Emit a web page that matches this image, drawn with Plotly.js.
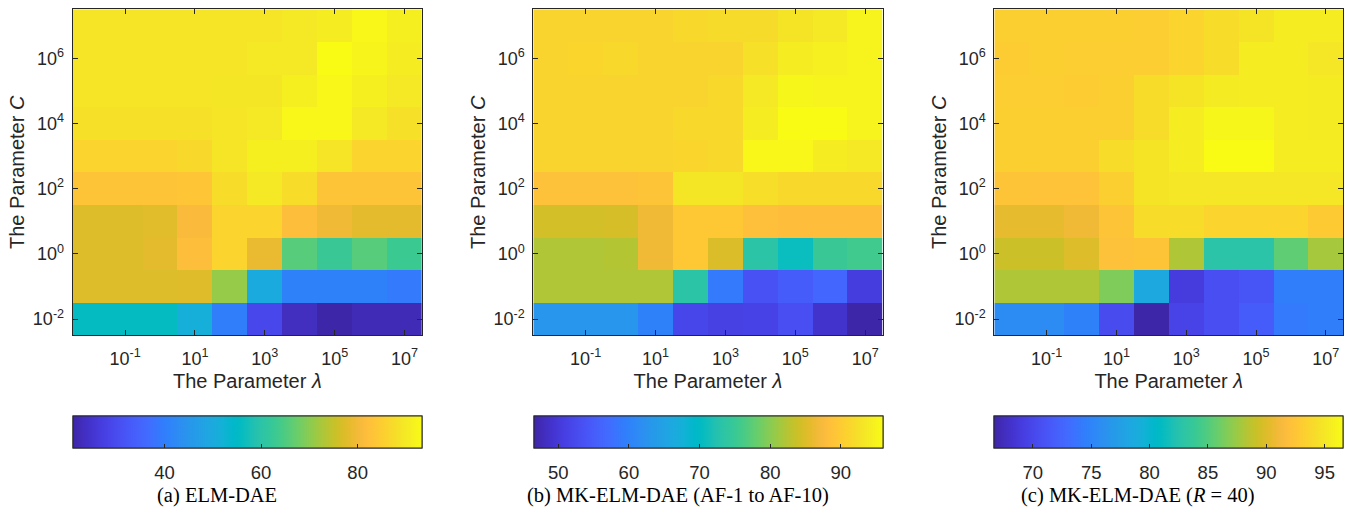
<!DOCTYPE html>
<html>
<head>
<meta charset="utf-8">
<script src="https://cdn.plot.ly/plotly-3.0.1.min.js"></script>
<style>html,body{margin:0;padding:0;background:#fff;}#chart{width:1351px;height:510px;}</style>
</head>
<body>
<div id="chart"></div>
<script>
// Exponents of the grid (log10 of lambda and C)
const lambdaExp = [-2, -1, 0, 1, 2, 3, 4, 5, 6, 7];
const cExp = [-2, -1, 0, 1, 2, 3, 4, 5, 6, 7];
const xTickVals = [-1, 1, 3, 5, 7];
const xTickText = ["10<sup>-1</sup>", "10<sup>1</sup>", "10<sup>3</sup>", "10<sup>5</sup>", "10<sup>7</sup>"];
const yTickVals = [-2, 0, 2, 4, 6];
const yTickText = ["10<sup>-2</sup>", "10<sup>0</sup>", "10<sup>2</sup>", "10<sup>4</sup>", "10<sup>6</sup>"];

// Accuracy (%) rows: C = 1e-2 (first) ... 1e7 (last); columns: lambda = 1e-2 ... 1e7
const accElmDae = [
  [55.7, 55.7, 55.7, 51.4, 39.8, 29.0, 23.2, 21.0, 22.4, 22.4],
  [77.4, 77.4, 77.4, 77.6, 70.9, 49.9, 40.5, 40.5, 40.5, 39.1],
  [77.4, 77.4, 78.1, 81.7, 86.1, 78.8, 65.8, 62.6, 65.8, 62.9],
  [77.4, 77.4, 77.8, 81.0, 86.1, 86.1, 81.7, 79.6, 78.1, 78.1],
  [83.2, 83.2, 83.2, 83.6, 87.5, 89.7, 87.5, 83.2, 83.2, 83.2],
  [86.1, 86.1, 86.1, 86.8, 89.0, 91.1, 91.1, 89.0, 86.1, 86.1],
  [88.2, 88.2, 88.2, 88.2, 89.0, 89.7, 92.6, 92.6, 89.7, 88.2],
  [89.0, 89.0, 89.0, 89.0, 89.3, 89.3, 91.1, 92.6, 91.1, 89.7],
  [89.0, 89.0, 89.0, 89.0, 89.0, 89.7, 89.7, 93.3, 91.9, 90.4],
  [89.0, 89.0, 89.0, 89.0, 89.0, 89.0, 89.7, 90.4, 92.6, 91.1]
];
const accMkAf = [
  [62.8, 62.8, 62.8, 59.8, 51.9, 51.0, 51.4, 52.9, 49.0, 46.5],
  [82.1, 82.1, 82.1, 82.1, 73.2, 58.9, 53.4, 54.9, 56.4, 50.5],
  [82.1, 82.1, 82.3, 86.5, 89.5, 84.8, 73.2, 70.7, 74.9, 75.6],
  [84.3, 84.3, 84.5, 86.5, 89.5, 89.5, 88.2, 88.0, 88.0, 88.0],
  [88.5, 88.5, 88.5, 89.0, 93.2, 93.2, 92.2, 91.5, 91.5, 91.5],
  [91.0, 91.0, 91.0, 91.0, 91.2, 91.5, 95.4, 95.4, 93.9, 93.4],
  [91.0, 91.0, 91.0, 91.0, 91.5, 91.5, 93.9, 95.9, 95.9, 94.9],
  [91.0, 91.0, 91.0, 91.0, 91.0, 91.5, 93.4, 95.2, 94.9, 94.9],
  [91.0, 91.2, 91.5, 91.0, 91.0, 91.0, 92.4, 93.9, 94.4, 94.9],
  [91.0, 91.0, 91.0, 91.0, 91.5, 91.9, 91.9, 92.9, 93.4, 94.9]
];
const accMkR40 = [
  [75.7, 75.7, 74.8, 70.3, 66.7, 69.7, 70.6, 71.8, 74.2, 74.5],
  [88.2, 88.2, 88.2, 86.6, 78.4, 69.1, 70.6, 71.2, 74.5, 74.5],
  [89.3, 89.3, 90.0, 92.1, 92.4, 88.2, 82.8, 82.8, 85.5, 87.9],
  [90.5, 90.5, 90.9, 92.4, 94.2, 94.2, 93.6, 93.6, 93.6, 92.9],
  [92.4, 92.3, 92.3, 93.3, 94.8, 95.0, 95.0, 95.0, 95.0, 95.0],
  [93.3, 93.3, 93.3, 94.2, 94.8, 95.4, 96.6, 96.6, 95.4, 95.4],
  [93.3, 93.3, 93.3, 93.3, 94.2, 95.4, 96.2, 96.2, 95.4, 95.3],
  [93.2, 93.2, 93.0, 93.3, 94.2, 94.8, 95.3, 95.4, 95.4, 95.3],
  [93.0, 93.3, 93.2, 93.2, 93.2, 93.6, 94.2, 95.4, 95.4, 95.0],
  [93.3, 93.3, 93.3, 93.3, 93.2, 93.6, 94.2, 94.8, 95.4, 95.4]
];
const zRanges = [[21.0, 93.3], [46.5, 95.9], [66.7, 96.6]];
const cbDticks = [20, 10, 5];
const captions = ["(a) ELM-DAE", "(b) MK-ELM-DAE (AF-1 to AF-10)", "(c) MK-ELM-DAE (<i>R</i> = 40)"];

// MATLAB parula colormap (64 entries)
const parula = [
[0.2422,0.1504,0.6603],[0.2504,0.1650,0.7076],[0.2578,0.1818,0.7511],[0.2647,0.1978,0.7952],
[0.2706,0.2147,0.8364],[0.2751,0.2342,0.8710],[0.2783,0.2559,0.8991],[0.2803,0.2782,0.9221],
[0.2813,0.3006,0.9414],[0.2810,0.3228,0.9579],[0.2795,0.3447,0.9717],[0.2760,0.3667,0.9829],
[0.2699,0.3892,0.9906],[0.2602,0.4123,0.9952],[0.2440,0.4358,0.9988],[0.2206,0.4603,0.9973],
[0.1963,0.4847,0.9892],[0.1834,0.5074,0.9798],[0.1786,0.5289,0.9682],[0.1764,0.5499,0.9520],
[0.1687,0.5703,0.9359],[0.1540,0.5902,0.9218],[0.1460,0.6091,0.9079],[0.1380,0.6276,0.8973],
[0.1248,0.6459,0.8883],[0.1113,0.6635,0.8763],[0.0952,0.6798,0.8598],[0.0689,0.6948,0.8394],
[0.0297,0.7082,0.8163],[0.0036,0.7203,0.7917],[0.0067,0.7312,0.7660],[0.0433,0.7411,0.7394],
[0.0964,0.7500,0.7120],[0.1408,0.7584,0.6842],[0.1717,0.7670,0.6554],[0.1938,0.7758,0.6251],
[0.2161,0.7843,0.5923],[0.2470,0.7918,0.5567],[0.2906,0.7973,0.5188],[0.3406,0.8008,0.4789],
[0.3909,0.8029,0.4354],[0.4456,0.8024,0.3909],[0.5044,0.7993,0.3480],[0.5616,0.7942,0.3045],
[0.6174,0.7876,0.2612],[0.6720,0.7793,0.2227],[0.7242,0.7698,0.1910],[0.7738,0.7598,0.1646],
[0.8203,0.7498,0.1535],[0.8634,0.7406,0.1596],[0.9035,0.7330,0.1774],[0.9393,0.7288,0.2100],
[0.9728,0.7298,0.2394],[0.9956,0.7434,0.2371],[0.9970,0.7659,0.2199],[0.9952,0.7893,0.2028],
[0.9892,0.8136,0.1885],[0.9786,0.8386,0.1766],[0.9676,0.8639,0.1643],[0.9610,0.8890,0.1537],
[0.9597,0.9135,0.1423],[0.9628,0.9373,0.1265],[0.9691,0.9606,0.1064],[0.9769,0.9839,0.0805]
];
const parulaScale = parula.map((c, i) => [i / (parula.length - 1),
  'rgb(' + Math.round(c[0]*255) + ',' + Math.round(c[1]*255) + ',' + Math.round(c[2]*255) + ')']);

const W = 1351, H = 510;
const ink = '#262626';
const sans = 'Liberation Sans, Arial, sans-serif';
const panels = [
  {z: accElmDae, left: 72.7, right: 422.0, cap: 217},
  {z: accMkAf, left: 533.3, right: 882.7, cap: 678},
  {z: accMkR40, left: 994.3, right: 1343.3, cap: 1138}
];
const plotTop = 9.3, plotBot = 335.3, cbTop = 416, cbThick = 31.5;

const data = [];
const layout = {
  width: W, height: H,
  margin: {l: 0, r: 0, t: 0, b: 0},
  paper_bgcolor: '#fff', plot_bgcolor: '#fff',
  font: {family: sans, size: 18, color: ink},
  showlegend: false,
  annotations: []
};

panels.forEach((p, i) => {
  const n = i === 0 ? '' : String(i + 1);
  const cbBase = {
    orientation: 'h',
    x: (p.left + p.right) / 2 / W, xanchor: 'center', xref: 'paper',
    y: 1 - cbTop / H, yanchor: 'top', yref: 'paper',
    lenmode: 'pixels', len: p.right - p.left,
    thicknessmode: 'pixels', thickness: cbThick,
    xpad: 0, ypad: 0,
    outlinecolor: ink, outlinewidth: 1,
    tick0: 0, dtick: cbDticks[i],
    tickfont: {family: sans, size: 18.5, color: ink}
  };
  // main heatmap; its colorbar carries the tick labels (pushed down by transparent outside ticks)
  data.push({
    type: 'heatmap',
    x: lambdaExp, y: cExp, z: p.z,
    xaxis: 'x' + n, yaxis: 'y' + n,
    colorscale: parulaScale,
    zmin: zRanges[i][0], zmax: zRanges[i][1],
    hoverinfo: 'skip',
    colorbar: Object.assign({}, cbBase, {
      ticks: 'outside', ticklen: 9, tickcolor: 'rgba(0,0,0,0)', tickwidth: 1
    })
  });
  // same data again, invisible, only to draw the small inside tick marks of the colour bar
  data.push({
    type: 'heatmap',
    x: lambdaExp, y: cExp, z: p.z,
    xaxis: 'x' + n, yaxis: 'y' + n,
    colorscale: parulaScale,
    zmin: zRanges[i][0], zmax: zRanges[i][1],
    opacity: 0,
    hoverinfo: 'skip',
    colorbar: Object.assign({}, cbBase, {
      ticks: 'inside', ticklen: 4, tickcolor: ink, tickwidth: 1, showticklabels: false
    })
  });
  const axCommon = {
    showgrid: false, zeroline: false,
    showline: true, linecolor: ink, linewidth: 1, mirror: 'allticks',
    ticks: 'inside', ticklen: 5, tickcolor: ink, tickwidth: 1,
    tickmode: 'array', range: [-2.5, 7.5],
    tickfont: {family: sans, size: 18, color: ink},
    fixedrange: true
  };
  layout['xaxis' + n] = Object.assign({}, axCommon, {
    domain: [p.left / W, p.right / W],
    anchor: 'y' + n,
    tickvals: xTickVals, ticktext: xTickText,
    ticklabelstandoff: 7,
    title: {text: 'The Parameter <i>λ</i>', font: {size: 20, color: ink}, standoff: 6}
  });
  layout['yaxis' + n] = Object.assign({}, axCommon, {
    domain: [1 - plotBot / H, 1 - plotTop / H],
    anchor: 'x' + n,
    tickvals: yTickVals, ticktext: yTickText,
    ticklabelstandoff: 4,
    title: {text: 'The Parameter <i>C</i>', font: {size: 20, color: ink}, standoff: 2}
  });
  layout.annotations.push({
    text: captions[i], xref: 'paper', yref: 'paper',
    x: p.cap / W, y: 1 - 495 / H, xanchor: 'center', yanchor: 'middle',
    showarrow: false,
    font: {family: 'Liberation Serif, Times New Roman, serif', size: 20.5, color: '#000'}
  });
});

Plotly.newPlot('chart', data, layout, {staticPlot: true, displayModeBar: false});
</script>
</body>
</html>
